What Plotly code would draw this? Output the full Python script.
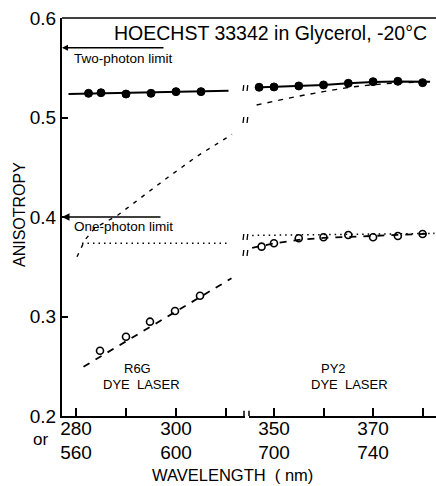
import plotly.graph_objects as go

# ---------------- data ----------------
# Left panel (R6G dye laser), wavelength in nm (excitation 1-photon scale)
r6g_filled_x = [282.5, 285, 290, 295, 300, 305]
r6g_filled_y = [0.5243, 0.5249, 0.5236, 0.5243, 0.5260, 0.5260]
r6g_filled_fit_x = [278.5, 310.5]
r6g_filled_fit_y = [0.5236, 0.5270]

r6g_open_x = [284.8, 290, 294.8, 299.8, 304.8]
r6g_open_y = [0.2656, 0.2797, 0.2948, 0.3055, 0.3209]
r6g_open_fit_x = [281.5, 311.1]
r6g_open_fit_y = [0.2495, 0.3384]

r6g_dash_x = [280.2, 281.8, 283.8, 288.4, 293.4, 298.4, 304.2, 311.2]
r6g_dash_y = [0.360, 0.377, 0.389, 0.402, 0.421, 0.440, 0.461, 0.483]
r6g_dot_x = [281.2, 310.4]
r6g_dot_y = [0.3736, 0.3736]

# Right panel (PY2 dye laser)
py2_filled_x = [347, 350, 355, 360, 365, 370, 375, 380]
py2_filled_y = [0.5304, 0.5307, 0.5317, 0.5327, 0.5344, 0.5360, 0.5364, 0.5350]
py2_filled_fit_x = [346.2, 350, 355, 360, 365, 370, 375, 381.5]
py2_filled_fit_y = [0.5302, 0.5307, 0.5317, 0.5327, 0.5344, 0.5358, 0.5362, 0.5360]

py2_open_x = [347.5, 350, 355, 360, 365, 370, 375, 380]
py2_open_y = [0.3702, 0.3736, 0.3786, 0.3796, 0.3819, 0.3796, 0.3809, 0.3829]
py2_open_fit_x = [345.6, 350, 355, 360, 365, 370, 375, 382.4]
py2_open_fit_y = [0.3690, 0.3735, 0.3770, 0.3790, 0.3800, 0.3810, 0.3820, 0.3835]

py2_dash_x = [346.5, 350, 355, 360, 365, 370, 375, 381]
py2_dash_y = [0.5126, 0.5165, 0.5215, 0.5260, 0.5302, 0.5330, 0.5348, 0.5360]
py2_dot_x = [345.6, 382.0]
py2_dot_y = [0.3815, 0.3835]

two_photon_limit = 0.57
one_photon_limit = 0.40

left_tickvals = [280, 290, 300, 310]
left_ticktext = ["280<br>560", "", "300<br>600", ""]
right_tickvals = [350, 360, 370, 380]
right_ticktext = ["350<br>700", "", "370<br>740", ""]
y_tickvals = [0.2, 0.3, 0.4, 0.5, 0.6]
y_ticktext = ["0.2", "0.3", "0.4", "0.5", "0.6"]

FONT = "Liberation Sans"
BLACK = "black"

fig = go.Figure()

def line(x, y, xa, dash, width=1.6):
    fig.add_trace(go.Scatter(x=x, y=y, xaxis=xa, yaxis="y", mode="lines",
                             line=dict(color=BLACK, width=width, dash=dash),
                             hoverinfo="skip", showlegend=False))

def pts(x, y, xa, filled):
    if filled:
        m = dict(symbol="circle", size=8, color=BLACK, line=dict(color=BLACK, width=1))
    else:
        m = dict(symbol="circle-open", size=7, color=BLACK, line=dict(color=BLACK, width=1.6))
    fig.add_trace(go.Scatter(x=x, y=y, xaxis=xa, yaxis="y", mode="markers",
                             marker=m, showlegend=False))

# left panel
line(r6g_dash_x, r6g_dash_y, "x", "4px,6px", 1.4)
line(r6g_dot_x, r6g_dot_y, "x", "1.5px,4px", 1.5)
line(r6g_filled_fit_x, r6g_filled_fit_y, "x", "solid", 2)
line(r6g_open_fit_x, r6g_open_fit_y, "x", "7px,7px", 1.8)
pts(r6g_filled_x, r6g_filled_y, "x", True)
pts(r6g_open_x, r6g_open_y, "x", False)

# right panel
line(py2_dash_x, py2_dash_y, "x2", "5px,6px", 1.4)
line(py2_dot_x, py2_dot_y, "x2", "1.5px,4px", 1.5)
line(py2_filled_fit_x, py2_filled_fit_y, "x2", "solid", 2)
line(py2_open_fit_x, py2_open_fit_y, "x2", "7px,7px", 1.8)
pts(py2_filled_x, py2_filled_y, "x2", True)
pts(py2_open_x, py2_open_y, "x2", False)

axis_common = dict(showline=True, linecolor=BLACK, linewidth=1.6, ticks="inside",
                   ticklen=8, tickwidth=1.5, tickcolor=BLACK, showgrid=False,
                   zeroline=False, anchor="y", automargin=False,
                   ticklabelstandoff=-6,
                   tickfont=dict(family=FONT, size=19, color=BLACK))

fig.update_layout(
    width=436, height=486,
    margin=dict(l=62, r=0, t=18, b=70, autoexpand=False),
    paper_bgcolor="white", plot_bgcolor="white",
    xaxis=dict(domain=[0, 0.4893], range=[277.2, 313.8],
               tickmode="array", tickvals=left_tickvals, ticktext=left_ticktext,
               **axis_common),
    xaxis2=dict(domain=[0.5, 1], range=[344.96, 382.7],
                tickmode="array", tickvals=right_tickvals, ticktext=right_ticktext,
                **axis_common),
    yaxis=dict(range=[0.2, 0.6], showline=True, linecolor=BLACK, linewidth=2,
               ticks="inside", ticklen=6, tickwidth=1.5, tickcolor=BLACK,
               tickmode="array", tickvals=y_tickvals, ticktext=y_ticktext,
               showgrid=False, zeroline=False, automargin=False,
               tickfont=dict(family=FONT, size=19, color=BLACK)),
    font=dict(family=FONT, color=BLACK),
)

shapes = [
    # top border
    dict(type="line", xref="paper", yref="paper", x0=0, x1=1, y0=1, y1=1,
         line=dict(color=BLACK, width=1.6)),
    # axis break ticks on x axis
    dict(type="line", xref="paper", yref="paper", x0=0.4866, x1=0.4866, y0=0, y1=0.013,
         line=dict(color=BLACK, width=1.5)),
    dict(type="line", xref="paper", yref="paper", x0=0.5, x1=0.5, y0=0, y1=0.013,
         line=dict(color=BLACK, width=1.5)),
]
for yb in [0.5296, 0.4975, 0.3799, 0.3638]:
    for xb in [0.4840, 0.4947]:
        shapes.append(dict(type="line", xref="paper", yref="y", x0=xb, x1=xb + 0.002,
                           y0=yb - 0.003, y1=yb + 0.003,
                           line=dict(color=BLACK, width=1.3)))
fig.update_layout(shapes=shapes)

ann = [
    dict(text="HOECHST 33342 in Glycerol, -20°C", xref="paper", yref="paper",
         x=0.1337, y=0.962, xanchor="left", yanchor="middle", showarrow=False,
         font=dict(size=19.5)),
    dict(text="Two-photon limit", xref="paper", yref="paper", x=0.0267, y=0.897,
         xanchor="left", yanchor="middle", showarrow=False, font=dict(size=13.5)),
    dict(text="One-photon limit", xref="paper", yref="paper", x=0.0267, y=0.477,
         xanchor="left", yanchor="middle", showarrow=False, font=dict(size=13.5)),
    dict(text="R6G", xref="paper", yref="paper", x=0.2032, y=0.1206,
         xanchor="center", yanchor="middle", showarrow=False, font=dict(size=13)),
    dict(text="DYE  LASER", xref="paper", yref="paper", x=0.2139, y=0.0779,
         xanchor="center", yanchor="middle", showarrow=False, font=dict(size=13)),
    dict(text="PY2", xref="paper", yref="paper", x=0.7246, y=0.1206,
         xanchor="center", yanchor="middle", showarrow=False, font=dict(size=13)),
    dict(text="DYE  LASER", xref="paper", yref="paper", x=0.7674, y=0.0779,
         xanchor="center", yanchor="middle", showarrow=False, font=dict(size=13)),
    dict(text="or", xref="paper", yref="paper", x=-0.0588, y=-0.0603,
         xanchor="center", yanchor="middle", showarrow=False, font=dict(size=17)),
    dict(text="WAVELENGTH  ( nm)", xref="paper", yref="paper", x=0.457, y=-0.148,
         xanchor="center", yanchor="middle", showarrow=False, font=dict(size=16.5)),
    dict(text="ANISOTROPY", xref="paper", yref="paper", x=-0.115, y=0.5075,
         xanchor="center", yanchor="middle", textangle=-90, showarrow=False,
         font=dict(size=16)),
    # limit arrows
    dict(text="", xref="x", yref="y", x=277.2, y=two_photon_limit,
         axref="x", ayref="y", ax=297.8, ay=two_photon_limit,
         showarrow=True, arrowhead=2, arrowsize=0.8, arrowwidth=1.5, arrowcolor=BLACK),
    dict(text="", xref="x", yref="y", x=277.2, y=one_photon_limit,
         axref="x", ayref="y", ax=297.2, ay=one_photon_limit,
         showarrow=True, arrowhead=2, arrowsize=1, arrowwidth=1.5, arrowcolor=BLACK),
]
fig.update_layout(annotations=ann)

fig.write_html("out.html", config={"displayModeBar": False},
               post_script="document.body.style.margin='0px';document.body.style.overflow='hidden';")
